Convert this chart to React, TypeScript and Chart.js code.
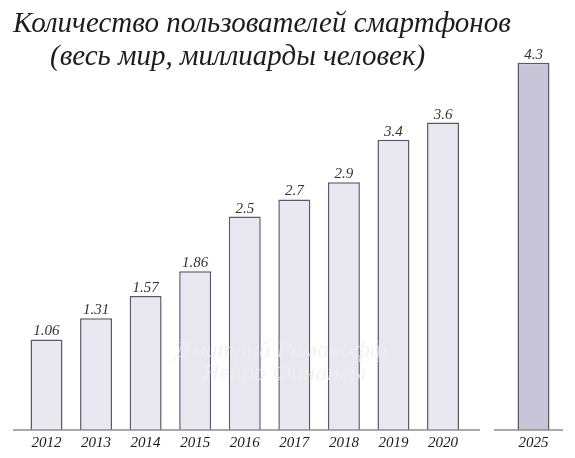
import React, { useEffect, useRef } from "react";
import { Chart, registerables } from "chart.js";

Chart.register(...registerables);

const titleLine1 = "Количество пользователей смартфонов";
const titleLine2 = "(весь мир, миллиарды человек)";
const watermarkLine1 = "Дмитрий Романофф";
const watermarkLine2 = "Нейро Финансы";

const mainYears = ["2012", "2013", "2014", "2015", "2016", "2017", "2018", "2019", "2020"];
const mainValues = [1.06, 1.31, 1.57, 1.86, 2.5, 2.7, 2.9, 3.4, 3.6];
const forecastYears = ["2025"];
const forecastValues = [4.3];
const yMax = 5;

const SERIF = '"Liberation Serif", "Times New Roman", serif';
const W = 575;
const H = 458;

const valueLabelsPlugin = {
  id: "valueLabels",
  afterDatasetsDraw(chart: any) {
    const ctx = chart.ctx;
    ctx.save();
    ctx.font = `italic 15px ${SERIF}`;
    ctx.fillStyle = "#333333";
    ctx.textAlign = "center";
    ctx.textBaseline = "alphabetic";
    chart.data.datasets.forEach((ds: any, di: number) => {
      const meta = chart.getDatasetMeta(di);
      meta.data.forEach((el: any, i: number) => {
        ctx.fillText(String(ds.data[i]), el.x, el.y - 4);
      });
    });
    ctx.restore();
  },
};

const baseLinePlugin = {
  id: "baseLine",
  afterDatasetsDraw(chart: any, _args: any, opts: any) {
    const ctx = chart.ctx;
    const y = chart.scales.y.getPixelForValue(0);
    ctx.save();
    ctx.strokeStyle = "#8c8c8c";
    ctx.lineWidth = 1.5;
    ctx.beginPath();
    ctx.moveTo(chart.chartArea.left - opts.extendLeft, y);
    ctx.lineTo(chart.chartArea.right + opts.extendRight, y);
    ctx.stroke();
    ctx.restore();
  },
};

const textPlugin = {
  id: "titleAndWatermark",
  afterDatasetsDraw(chart: any) {
    const ctx = chart.ctx;
    ctx.save();
    ctx.textBaseline = "alphabetic";
    // watermark
    ctx.font = `italic 24px ${SERIF}`;
    ctx.fillStyle = "rgba(238,238,240,0.7)";
    ctx.textAlign = "center";
    ctx.fillText(watermarkLine1, 281, 357);
    ctx.fillText(watermarkLine2, 284, 380);
    // title
    ctx.font = `italic 29px ${SERIF}`;
    ctx.fillStyle = "#1c1c1c";
    ctx.textAlign = "left";
    ctx.fillText(titleLine1, 13, 32);
    ctx.fillText(titleLine2, 50, 65);
    ctx.restore();
  },
};

function makeConfig(labels: string[], values: number[], fill: string, padLeft: number, padRight: number, extendLeft: number, extendRight: number, withText: boolean): any {
  const plugins: any[] = [baseLinePlugin, valueLabelsPlugin];
  if (withText) plugins.unshift(textPlugin);
  return {
    type: "bar",
    data: {
      labels,
      datasets: [
        {
          data: values,
          backgroundColor: fill,
          borderColor: "#5a576e",
          borderWidth: 1.5,
          borderSkipped: "bottom",
          barPercentage: 0.645,
          categoryPercentage: 1,
        },
      ],
    },
    options: {
      responsive: false,
      animation: false,
      events: [],
      layout: { padding: { left: padLeft, right: padRight, top: 3, bottom: 2 } },
      plugins: {
        legend: { display: false },
        tooltip: { enabled: false },
        title: { display: false },
        baseLine: { extendLeft, extendRight },
      },
      scales: {
        x: {
          type: "category",
          offset: true,
          grid: { display: false, drawTicks: false },
          border: { display: false },
          ticks: {
            padding: 4,
            color: "#1a1a1a",
            font: { family: SERIF, size: 15, style: "italic" },
            maxRotation: 0,
            autoSkip: false,
          },
        },
        y: {
          display: false,
          min: 0,
          max: yMax,
        },
      },
    },
    plugins,
  };
}

export default function App() {
  const mainRef = useRef<HTMLCanvasElement>(null);
  const foreRef = useRef<HTMLCanvasElement>(null);

  useEffect(() => {
    const c1 = new Chart(
      mainRef.current as HTMLCanvasElement,
      makeConfig(mainYears, mainValues, "#e9e8f0", 21.7, W - 467.8, 8.7, 12.2, true)
    );
    const c2 = new Chart(
      foreRef.current as HTMLCanvasElement,
      makeConfig(forecastYears, forecastValues, "#c9c5d8", 508.7, W - 558.3, 14.7, 4.7, false)
    );
    return () => {
      c1.destroy();
      c2.destroy();
    };
  }, []);

  const canvasStyle: React.CSSProperties = { position: "absolute", left: 0, top: 0 };
  return (
    <div style={{ position: "absolute", left: 0, top: 0, width: W, height: H, background: "#ffffff" }}>
      <canvas ref={mainRef} width={W} height={H} style={canvasStyle} />
      <canvas ref={foreRef} width={W} height={H} style={canvasStyle} />
    </div>
  );
}
